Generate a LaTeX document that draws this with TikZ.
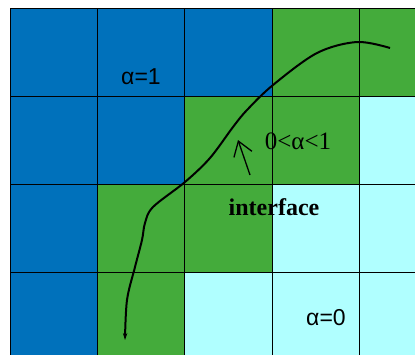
\documentclass[tikz,border=0pt]{standalone}
\usepackage{fontspec}
\setmainfont{Liberation Serif}
\newfontfamily\phasefont{Liberation Sans}
\usetikzlibrary{arrows.meta}
\definecolor{cfull}{HTML}{0071BB}
\definecolor{cmix}{HTML}{44AB3B}
\definecolor{cempty}{HTML}{B0FFFF}

\begin{document}
\begin{tikzpicture}[x=1pt, y=-1pt,
  cell/.style={draw=black, line width=0.8pt},
  iface/.style={draw=black, line width=2pt, -{Stealth[length=7pt, width=4.5pt]}},
  pointer/.style={draw=black, line width=1.3pt, -{Straight Barb[length=14pt, width=19pt, line width=1.3pt]}},
  phase/.style={font=\phasefont\fontsize{23}{27}\selectfont, inner sep=0pt},
  mixlab/.style={font=\fontsize{25}{30}\selectfont, inner sep=0pt},
  lab/.style={font=\bfseries\fontsize{24}{28}\selectfont, inner sep=0pt},
]
\useasboundingbox (0,0) rectangle (415,354);
\clip (0,0) rectangle (415,354);
% volume fraction of each cell, row by row from the top
\foreach \c [count=\k from 0] in {cfull,cfull,cfull,cmix,cmix,
                                  cfull,cfull,cmix,cmix,cempty,
                                  cfull,cmix,cmix,cempty,cempty,
                                  cfull,cmix,cempty,cempty,cempty} {
  \pgfmathtruncatemacro\i{mod(\k,5)}
  \pgfmathtruncatemacro\j{div(\k,5)}
  \filldraw[cell, fill=\c] ({10+87.4*\i},{8.3+88.1*\j}) rectangle ++(87.4,88.1);
}
% free-hand interface line
\draw[iface] plot[smooth, tension=0.55] coordinates {(390,48) (357,42) (317,53) (273,85)
  (247,110) (233,127) (210,158) (185,182) (153,207) (145,223) (142,240) (135,267)
  (127,300) (125,340)};
\node[phase] (full) at (141,77) {α=1};
\node[mixlab] (mixed) at (298,141) {0<α<1};
\node[lab, anchor=base] (label) at (274,215) {interface};
\node[phase] (empty) at (326,318) {α=0};
\coordinate (ptail) at (250,175);
\coordinate (phead) at (238,140);
\draw[pointer] (ptail) -- (phead);
\end{tikzpicture}
\end{document}
